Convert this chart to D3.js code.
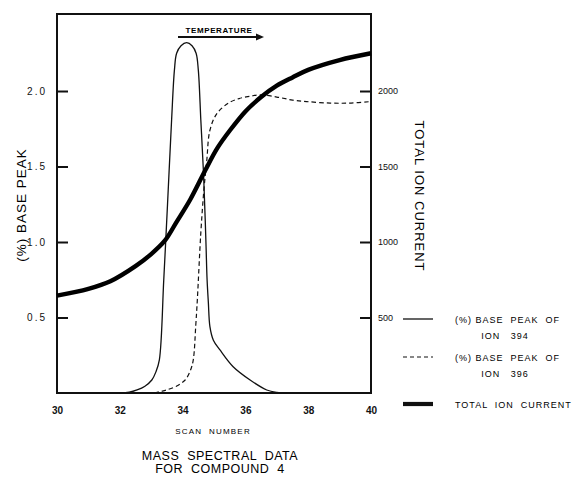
<!DOCTYPE html>
<html>
<head>
<meta charset="utf-8">
<script src="https://cdn.jsdelivr.net/npm/d3@7"></script>
<style>
  html, body { margin: 0; padding: 0; background: #fff; }
  svg { display: block; font-family: "Liberation Sans", Arial, sans-serif; }
  .tick text { fill: #111; }
</style>
</head>
<body>
<svg id="chart" width="577" height="477"></svg>
<script>
// Mass spectral data for compound 4: two ion traces (% base peak, left axis)
// plus the total ion current (right axis, same vertical registration: 500 <-> 0.5).
const SCAN_TICKS = [30, 32, 34, 36, 38, 40];
const PCT_TICKS = [0.5, 1.0, 1.5, 2.0];
const TIC_TICKS = [500, 1000, 1500, 2000];

// [scan, % base peak]
const ION_394 = [[32.0,0],[32.3,0.005],[32.55,0.02],[32.8,0.045],[33.02,0.086],[33.15,0.14],
  [33.26,0.22],[33.4,0.75],[33.52,1.25],[33.65,1.81],[33.74,2.14],[33.81,2.25],[33.95,2.30],
  [34.13,2.32],[34.3,2.30],[34.43,2.25],[34.5,2.14],[34.58,1.81],[34.66,1.48],[34.72,1.15],
  [34.75,0.95],[34.78,0.75],[34.82,0.6],[34.87,0.44],[34.98,0.35],[35.19,0.285],[35.61,0.174],
  [36.15,0.086],[36.68,0.02],[37.0,0.004],[37.3,0]];
const ION_396 = [[33.1,0],[33.3,0.01],[33.49,0.02],[33.8,0.045],[34.08,0.086],[34.25,0.15],
  [34.34,0.22],[34.42,0.45],[34.47,0.62],[34.58,1.06],[34.68,1.35],[34.77,1.54],[34.87,1.74],
  [35.09,1.85],[35.46,1.92],[35.8,1.95],[36.15,1.965],[36.46,1.975],[37.0,1.96],[37.5,1.94],
  [37.95,1.93],[38.7,1.92],[39.3,1.92],[40,1.93]];
// [scan, total ion current]
const TIC = [[30,645],[31,690],[31.7,740],[32.5,840],[33,920],[33.44,1010],[33.8,1130],
  [34.24,1280],[34.71,1470],[35.1,1620],[35.51,1740],[36,1865],[36.5,1960],[37,2035],
  [37.5,2090],[38,2140],[39,2205],[40,2250]];

const svg = d3.select("#chart");
const L = 57, R = 371, T = 14, B = 393;

const x = d3.scaleLinear().domain([30, 40]).range([L, R]);
const yPct = d3.scaleLinear().domain([0, 2.51]).range([B, T]);
const yTic = d3.scaleLinear().domain([0, 2510]).range([B, T]);

// left axis: ticks point inward
const gl = svg.append("g").attr("transform", `translate(${L},0)`)
  .call(d3.axisLeft(yPct).tickValues(PCT_TICKS).tickFormat(d3.format(".1f"))
    .tickSize(-11).tickPadding(10));
gl.select(".domain").remove();
gl.selectAll(".tick line").attr("stroke", "#111").attr("stroke-width", 2);
gl.selectAll(".tick text").attr("font-size", 10).attr("letter-spacing", 2);

// right axis
const gr = svg.append("g").attr("transform", `translate(${R},0)`)
  .call(d3.axisRight(yTic).tickValues(TIC_TICKS).tickFormat(d3.format("d"))
    .tickSize(-11).tickPadding(7));
gr.select(".domain").remove();
gr.selectAll(".tick line").attr("stroke", "#111").attr("stroke-width", 2);
gr.selectAll(".tick text").attr("font-size", 9).attr("fill", "#444");

// bottom axis: labels only
const gb = svg.append("g").attr("transform", `translate(0,${B})`)
  .call(d3.axisBottom(x).tickValues(SCAN_TICKS).tickSize(0).tickPadding(14));
gb.select(".domain").remove();
gb.selectAll(".tick text").attr("font-size", 10).attr("font-weight", "bold");

// frame
svg.append("rect").attr("x", L).attr("y", T).attr("width", R - L).attr("height", B - T)
  .attr("fill", "none").attr("stroke", "#111").attr("stroke-width", 2);

const linePct = d3.line().x(d => x(d[0])).y(d => yPct(d[1])).curve(d3.curveCatmullRom.alpha(0.5));
const lineTic = d3.line().x(d => x(d[0])).y(d => yTic(d[1])).curve(d3.curveCatmullRom.alpha(0.5));

svg.append("path").datum(ION_396).attr("d", linePct)
  .attr("fill", "none").attr("stroke", "#111").attr("stroke-width", 1.2)
  .attr("stroke-dasharray", "4.5,3");
svg.append("path").datum(ION_394).attr("d", linePct)
  .attr("fill", "none").attr("stroke", "#111").attr("stroke-width", 1.3);
svg.append("path").datum(TIC).attr("d", lineTic)
  .attr("fill", "none").attr("stroke", "#000").attr("stroke-width", 4.4);

// temperature arrow
svg.append("line").attr("x1", 178).attr("x2", 258).attr("y1", 37).attr("y2", 37)
  .attr("stroke", "#111").attr("stroke-width", 1.8);
svg.append("path").attr("d", "M256,33.5 L264,37 L256,40.5 Z").attr("fill", "#111");
svg.append("text").attr("x", 219).attr("y", 33).attr("text-anchor", "middle")
  .attr("font-size", 8).attr("font-weight", "bold").attr("letter-spacing", 0.6).text("TEMPERATURE");

// axis titles
svg.append("text").attr("transform", "translate(26,205) rotate(-90)")
  .attr("text-anchor", "middle").attr("font-size", 13.5).attr("letter-spacing", 1)
  .text("(%) BASE PEAK");
svg.append("text").attr("transform", "translate(415,196) rotate(90)")
  .attr("text-anchor", "middle").attr("font-size", 13).attr("letter-spacing", 1)
  .text("TOTAL ION CURRENT");
svg.append("text").attr("x", 213).attr("y", 434).attr("text-anchor", "middle")
  .attr("font-size", 8).attr("letter-spacing", 1.2).attr("xml:space", "preserve").text("SCAN  NUMBER");
svg.append("text").attr("x", 220).attr("y", 460).attr("text-anchor", "middle")
  .attr("font-size", 12.5).attr("letter-spacing", 0.5).attr("xml:space", "preserve")
  .text("MASS  SPECTRAL  DATA");
svg.append("text").attr("x", 220).attr("y", 473).attr("text-anchor", "middle")
  .attr("font-size", 12.5).attr("letter-spacing", 0.5).attr("xml:space", "preserve")
  .text("FOR  COMPOUND  4");

// legend
const LEG = [
  {y: 319, dash: null, w: 1.3, lines: ["(%) BASE  PEAK  OF", "ION   394"]},
  {y: 357, dash: "4,3", w: 1.2, lines: ["(%) BASE  PEAK  OF", "ION   396"]},
  {y: 404, dash: null, w: 4.2, lines: ["TOTAL  ION  CURRENT"]}
];
const lg = svg.append("g");
LEG.forEach(d => {
  lg.append("line").attr("x1", 403).attr("x2", 433).attr("y1", d.y).attr("y2", d.y)
    .attr("stroke", "#111").attr("stroke-width", d.w)
    .attr("stroke-dasharray", d.dash);
  d.lines.forEach((t, i) => {
    lg.append("text").attr("xml:space", "preserve")
      .attr("x", i === 0 ? 455 : 505).attr("y", d.y + 3.5 + i * 16)
      .attr("text-anchor", i === 0 ? "start" : "middle")
      .attr("font-size", 9).attr("letter-spacing", 1).text(t);
  });
});
</script>
</body>
</html>
